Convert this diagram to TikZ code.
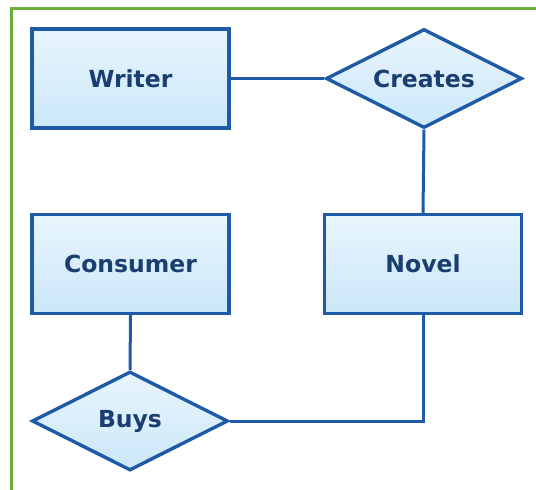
\documentclass[tikz,border=0pt]{standalone}
\usepackage{fontspec}
\setmainfont{DejaVu Sans}
\usetikzlibrary{shapes.geometric}
\definecolor{edgeblue}{HTML}{1E5AA6}
\definecolor{txtblue}{HTML}{1B3E70}
\definecolor{topfill}{HTML}{E8F5FC}
\definecolor{botfill}{HTML}{CBE7F9}
\definecolor{framegreen}{HTML}{6AAD3A}
\tikzset{
  entity/.style={draw=edgeblue, line width=3.4pt, top color=topfill, bottom color=botfill,
    minimum width=197pt, minimum height=99pt, inner sep=0pt,
    font=\fontsize{23.5}{27}\selectfont\bfseries, text=txtblue},
  relation/.style={diamond, shape aspect=2, draw=edgeblue, line width=3.4pt, top color=topfill, bottom color=botfill,
    minimum width=196pt, minimum height=99pt, inner sep=0pt,
    font=\fontsize{23.5}{27}\selectfont\bfseries, text=txtblue},
  link/.style={draw=edgeblue, line width=3pt},
  frameline/.style={draw=framegreen, line width=3pt}
}
\begin{document}
\begin{tikzpicture}[x=1pt, y=-1pt]
\useasboundingbox (0,0) rectangle (536,490);
\draw[frameline] (11,490) -- (11,8) -- (536,8);
\node[entity] (writer) at (130.5,78.5) {Writer};
\node[relation] (creates) at (424,78.5) {Creates};
\node[entity] (novel) at (423,264) {Novel};
\node[entity] (consumer) at (130.5,264) {Consumer};
\node[relation] (buys) at (130,421) {Buys};
\draw[link] (writer.east) -- (creates.west);
\draw[link] (creates.south) -- (novel.north);
\draw[link] (consumer.south) -- (buys.north);
\draw[link] (buys.east) -| (novel.south);
\end{tikzpicture}
\end{document}
